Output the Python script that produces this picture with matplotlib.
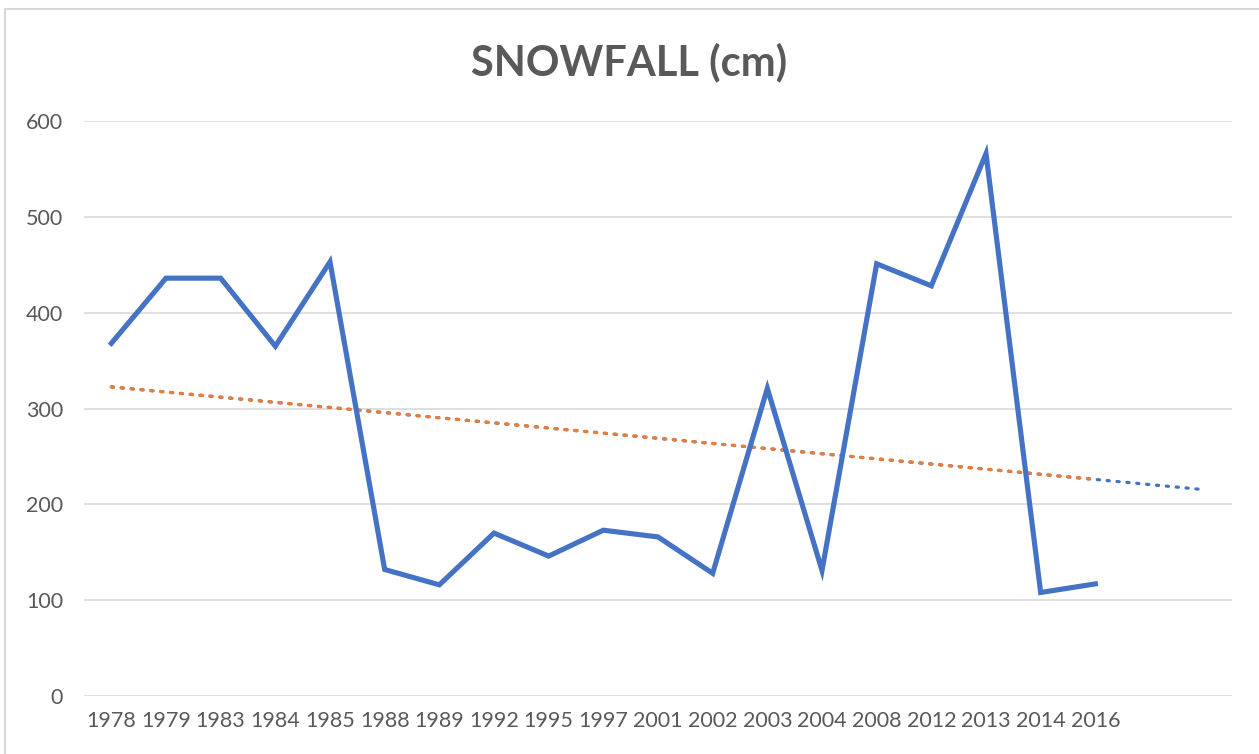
import numpy as np
import matplotlib
matplotlib.use("Agg")
import matplotlib.pyplot as plt
from matplotlib.patches import Rectangle

# Datos
years = ["1978", "1979", "1983", "1984", "1985", "1988", "1989", "1992", "1995", "1997",
         "2001", "2002", "2003", "2004", "2008", "2012", "2013", "2014", "2016"]
snowfall = [368, 436, 436, 365, 453, 132, 116, 170, 146, 173,
            166, 128, 321, 131, 451, 428, 566, 108, 117]
forecast_periods = 2     # la tendencia se extiende 2 periodos hacia adelante
yticks = [0, 100, 200, 300, 400, 500, 600]

blue = "#4472C4"
orange = "#ED7D31"
gray_txt = "#595959"
gray_grid = "#D9D9D9"

plt.rcParams["font.family"] = ["Lato", "DejaVu Sans"]

x = np.arange(len(years))
m, c = np.polyfit(x, snowfall, 1)            # tendencia lineal (minimos cuadrados)
xt_all = np.arange(len(years) + forecast_periods)

fig = plt.figure(figsize=(12.59, 7.54), dpi=100)
ax = fig.add_axes([84/1259, 1 - 696/754, (1232 - 84)/1259, (696 - 121)/754])

# borde del area del grafico
fig.patches.append(Rectangle((5/1259, -0.1), 1.2, 1 - 9/754 + 0.1, transform=fig.transFigure,
                             fill=False, edgecolor=gray_grid, linewidth=1.5))

ax.plot(x, snowfall, color=blue, linewidth=3.7, solid_joinstyle="miter", zorder=3)
ax.plot(xt_all, m*xt_all + c, color=blue, linestyle=(0, (0.7, 2.4)), linewidth=2.3,
        dash_capstyle="round", zorder=2)
ax.plot(x, m*x + c, color=orange, linestyle=(0, (0.7, 2.4)), linewidth=2.3,
        dash_capstyle="round", zorder=2.5)

ax.set_xlim(-0.5, len(years) + forecast_periods - 0.5)
ax.set_ylim(0, 600)
ax.set_yticks(yticks)
ax.set_xticks(x)
ax.set_xticklabels(years)
ax.grid(axis="y", color=gray_grid, linewidth=1.2)
ax.set_axisbelow(True)
for s in ax.spines.values():
    s.set_visible(False)
ax.tick_params(axis="both", length=0, colors=gray_txt, labelsize=15.5)
ax.tick_params(axis="y", pad=15)
ax.tick_params(axis="x", pad=11)

fig.text(0.5, 1 - 62/754, "SNOWFALL (cm)", ha="center", va="center",
         fontsize=30, fontweight="bold", color=gray_txt)

fig.savefig("out.png", dpi=100)
